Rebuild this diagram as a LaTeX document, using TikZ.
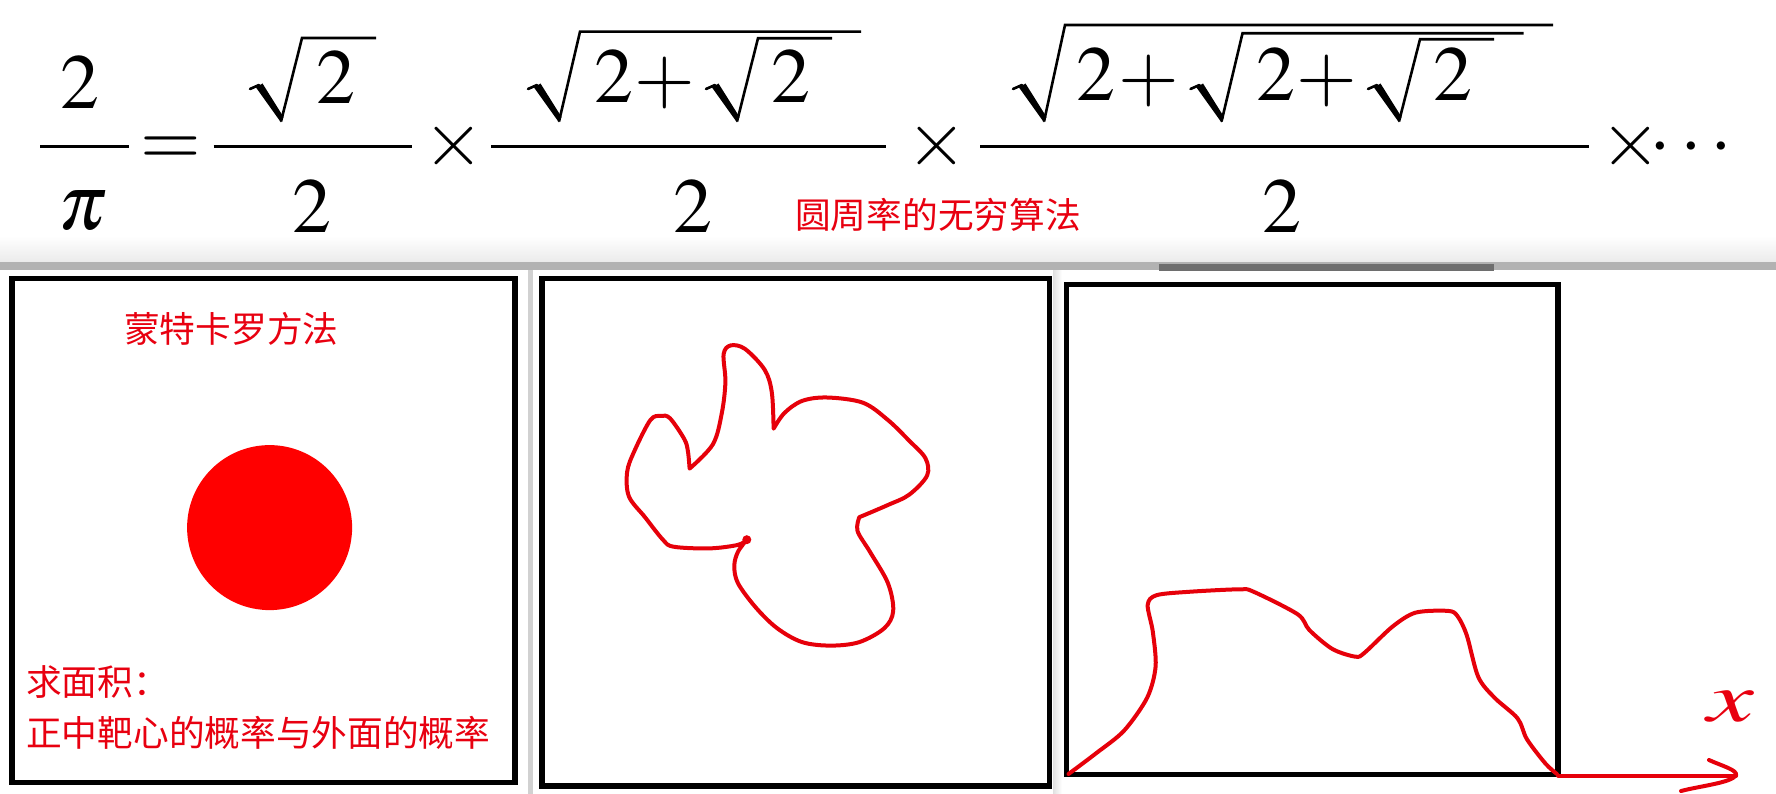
\documentclass[tikz,border=0pt]{standalone}
\usepackage{mathptmx}
\usepackage[no-math]{fontspec}
\newfontfamily\cjk{Noto Sans CJK SC}
\definecolor{txtred}{RGB}{232,0,16}
\definecolor{penred}{RGB}{230,0,10}
\definecolor{circred}{RGB}{255,0,0}
% radical sign: #1 = left x of hook, #2 = y of vinculum, #3 = right end of vinculum
\newcommand\myrad[3]{%
  \draw[line width=2.6pt, line cap=round] (#1,89) -- ({#1+9},85);
  \fill ({#1+6},87.5) -- ({#1+12.5},83.5) -- ({#1+33.5},117) -- ({#1+31},122.5) -- cycle;
  \draw[line width=2.6pt, line join=miter] ({#1+31},121.5) -- ({#1+52},#2) -- (#3,#2);
}
\begin{document}
\begin{tikzpicture}[x=1pt,y=-1pt,
  redline/.style={draw=penred, line width=4pt, line cap=round, line join=round},
  frame/.style={draw=black, line width=5.5pt},
  fbar/.style={line width=3.6pt},
  cjktext/.style={text=txtred, font=\cjk\fontsize{35.7}{42}\selectfont, inner sep=0pt, anchor=west},
  mth/.style={inner sep=0pt, anchor=base, font=\fontsize{78}{90}\selectfont}]
\useasboundingbox (0,0) rectangle (1776,794);
\fill[white] (0,0) rectangle (1776,794);
% screenshot seams
\shade[top color=white, bottom color=black!8] (0,236) rectangle (1776,262);
\fill[black!30] (0,262) rectangle (1776,270);
\fill[black!57] (1159,264) rectangle (1494,271);
\fill[black!18] (528,270) rectangle (533,794);
\shade[left color=black!12, right color=white] (1053,270) rectangle (1062,794);
% ---- formula ----
% 2 / pi
\node[mth] (n1) at (80,109) {$2$};
\draw[fbar] (40,146.7) -- (129,146.7);
\node[mth] (d1) at (83,230) {$\pi$};
\node[mth] (eq) at (171,166) {$=$};
% sqrt2 / 2
\myrad{250}{38}{376}
\node[mth] (n2) at (336,104) {$2$};
\draw[fbar] (213.5,146.7) -- (412,146.7);
\node[mth] (d2) at (311.5,233) {$2$};
\node[mth] (t1) at (453.5,166) {$\times$};
% sqrt(2+sqrt2) / 2
\myrad{528}{31.7}{861}
\node[mth] (n3a) at (614,103) {$2$};
\node[mth] (n3p) at (664.5,103) {$+$};
\myrad{706}{38.3}{832}
\node[mth] (n3b) at (790.5,103) {$2$};
\draw[fbar] (491,146.7) -- (886,146.7);
\node[mth] (d3) at (693,233) {$2$};
\node[mth] (t2) at (937,166) {$\times$};
% sqrt(2+sqrt(2+sqrt2)) / 2
\myrad{1013}{25}{1553}
\node[mth] (n4a) at (1096,101) {$2$};
\node[mth] (n4p) at (1149,101) {$+$};
\myrad{1190.5}{33.3}{1523.5}
\node[mth] (n4b) at (1275.5,101) {$2$};
\node[mth] (n4q) at (1326.5,101) {$+$};
\myrad{1368}{39.3}{1494}
\node[mth] (n4c) at (1453,101) {$2$};
\draw[fbar] (980,146.7) -- (1588.6,146.7);
\node[mth] (d4) at (1281.5,233) {$2$};
\node[mth] (t3) at (1631,166) {$\times$};
\node[mth] (dots) at (1691,166) {$\cdots$};
\node[cjktext] (title) at (795,215) {圆周率的无穷算法};
% ---- panel 1 ----
\draw[frame] (12,278.5) rectangle (515,782.5);
\node[cjktext] (mc) at (124,329) {蒙特卡罗方法};
\node[circle, fill=circred, minimum size=165pt, inner sep=0pt] (target) at (269.6,527.6) {};
\node[cjktext] (q1) at (26,682) {求面积：};
\node[cjktext] (q2) at (26,733) {正中靶心的概率与外面的概率};
% ---- panel 2 ----
\draw[frame] (542,278.5) rectangle (1049.5,786);
\draw[redline]
  plot[smooth, tension=0.55] coordinates {(746.8,539.7) (737.9,544.9) (709.3,548.4) (673.6,546.7) (662.9,539.7) (645,517.2) (628.9,496.4) (627.1,472.1) (634.3,451.2) (650.4,420) (661.1,415.9) (670,418.3) (684.3,439.1) (687.9,451.2) (689.6,468.6)}
  -- plot[smooth, tension=0.55] coordinates {(689.6,468.6) (712.9,444.3) (721.8,413.1) (725.4,381.9) (723.6,354.1) (730.7,345.4) (745,348.9) (764.6,369.7) (771.8,392.3) (773.6,428.7)}
  -- plot[smooth, tension=0.55] coordinates {(773.6,428.7) (784.3,413.1) (802.1,400.9) (827.1,397.5) (862.9,402.7) (887.9,420) (909.3,440.8) (925.4,458.2) (927.1,475.5) (909.3,494.6) (887.9,505) (859.3,517.2)}
  -- plot[smooth, tension=0.55] coordinates {(859.3,517.2) (857.5,531) (870,551.9) (887.9,583.1) (893.2,610.9) (884.3,628.2) (859.3,642.1) (830.7,645.6) (802.1,642.1) (777.1,628.2) (755.7,607.4) (737.9,583.1) (734.3,565.8) (737.9,551.9) (746.8,539.7)};
\fill[penred] (746.8,539.7) circle[radius=4.5];
% ---- panel 3 ----
\draw[frame] (1066.5,284.5) rectangle (1558,774.5);
\coordinate (b3br) at (1558,775.5);
\coordinate (tip) at (1736,775.5);
\draw[redline] plot[smooth, tension=0.5] coordinates {(1068.5,774) (1096.3,753.1) (1124.1,730.6) (1147.2,697.6) (1155.6,666.4) (1152.8,631.7) (1147.7,604.9) (1156.5,595.2) (1188.9,591.8) (1239.8,589.3) (1253.7,591.8) (1297.7,614.3) (1309.3,630) (1332.4,649) (1355.6,656.7) (1364.8,652.5) (1392.6,626.5) (1415.7,612.6) (1448.1,610.9) (1457.4,616) (1466.7,635.1) (1478.2,676.8) (1494.4,697.6) (1517.6,718.4) (1526.9,739.2) (1545.4,763.5) (1556.9,774)};
\draw[redline] (b3br) -- (tip);
\draw[redline] (1709,760) .. controls (1722,766) and (1738,770) .. (tip) .. controls (1730,783) and (1700,786) .. (1681,791);
\node[text=txtred, inner sep=0pt, font=\fontsize{70}{80}\selectfont] (xlab) at (1731,707) {\scalebox{1.5}[1]{$x$}};
\end{tikzpicture}
\end{document}
